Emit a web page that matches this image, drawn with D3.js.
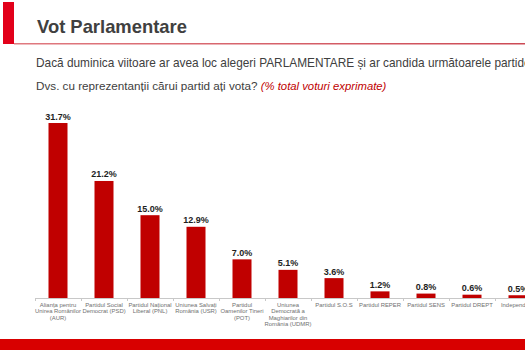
<!DOCTYPE html>
<html>
<head>
<meta charset="utf-8">
<script src="https://cdn.jsdelivr.net/npm/d3@7"></script>
<style>
  html, body { margin: 0; padding: 0; background: #fff; overflow: hidden; }
  svg { display: block; font-family: "Liberation Sans", Arial, sans-serif; }
</style>
</head>
<body>
<svg id="chart" width="525" height="350"></svg>
<script>
// ---- data ----
const titleText = "Vot Parlamentare";
const questionLine1 = "Dacă duminica viitoare ar avea loc alegeri PARLAMENTARE și ar candida următoarele partide";
const questionLine2 = "Dvs. cu reprezentanții cărui partid ați vota?";
const questionNote = "(% total voturi exprimate)";

const categories = [
  "Alianța pentru\nUnirea Românilor\n(AUR)",
  "Partidul Social\nDemocrat (PSD)",
  "Partidul Național\nLiberal (PNL)",
  "Uniunea Salvați\nRomânia (USR)",
  "Partidul\nOamenilor Tineri\n(POT)",
  "Uniunea\nDemocrată a\nMaghiarilor din\nRomânia (UDMR)",
  "Partidul S.O.S",
  "Partidul REPER",
  "Partidul SENS",
  "Partidul DREPT",
  "Independenți"
];
const values = [31.7, 21.2, 15.0, 12.9, 7.0, 5.1, 3.6, 1.2, 0.8, 0.6, 0.5];

// ---- drawing ----
const svg = d3.select("#chart");
const W = 525, H = 350;

// header
svg.append("rect").attr("x", 3).attr("y", 2).attr("width", 11).attr("height", 42).attr("fill", "#e2001a");
const grad = svg.append("defs").append("linearGradient").attr("id", "ul").attr("x1", "0").attr("x2", "1");
grad.append("stop").attr("offset", "0").attr("stop-color", "#e07a80");
grad.append("stop").attr("offset", "1").attr("stop-color", "#cc4a55");
svg.append("rect").attr("x", 14).attr("y", 43).attr("width", W - 14).attr("height", 1.5).attr("fill", "url(#ul)");

svg.append("text").attr("x", 37).attr("y", 33)
  .attr("font-size", 18.4).attr("font-weight", "bold").attr("fill", "#404040")
  .text(titleText);

svg.append("text").attr("x", 36).attr("y", 66.5)
  .attr("font-size", 11.85).attr("fill", "#404040").text(questionLine1);
const l2 = svg.append("text").attr("x", 36).attr("y", 89.5).attr("font-size", 11.7).attr("fill", "#404040");
l2.append("tspan").text(questionLine2 + " ");
l2.append("tspan").attr("font-style", "italic").attr("font-size", 11.3).attr("fill", "#c00000").text(questionNote);

// bottom band
svg.append("rect").attr("x", 0).attr("y", 339).attr("width", W).attr("height", H - 339).attr("fill", "#d80000");

// scales
const x0 = 35, step = 46;
const x = d3.scaleBand().domain(categories)
  .range([x0, x0 + step * categories.length])
  .paddingInner(0.587).paddingOuter(0.2935);
const baseY = 298;
const y = d3.scaleLinear().domain([0, 35]).range([baseY, baseY - 5.52 * 35]);

// axis
const axisG = svg.append("g").attr("transform", `translate(0,${baseY})`);
axisG.append("line").attr("x1", x0).attr("x2", W).attr("y1", 0.5).attr("y2", 0.5)
  .attr("stroke", "#c8c8c8").attr("stroke-width", 1);
const bounds = categories.map(c => x(c) + x.bandwidth() / 2 - x.step() / 2);
bounds.push(bounds[bounds.length - 1] + x.step());
axisG.selectAll("line.tick").data(bounds).join("line").attr("class", "tick")
  .attr("x1", d => Math.round(d) + 0.5).attr("x2", d => Math.round(d) + 0.5)
  .attr("y1", 0).attr("y2", 3).attr("stroke", "#c8c8c8");

// bars
svg.selectAll("rect.bar").data(values).join("rect").attr("class", "bar")
  .attr("x", (d, i) => x(categories[i]))
  .attr("width", x.bandwidth())
  .attr("y", d => y(d))
  .attr("height", d => baseY - y(d))
  .attr("fill", "#c00000");

// value labels
svg.selectAll("text.val").data(values).join("text").attr("class", "val")
  .attr("x", (d, i) => x(categories[i]) + x.bandwidth() / 2)
  .attr("y", d => y(d) - 3.5)
  .attr("text-anchor", "middle").attr("font-size", 9).attr("font-weight", "bold").attr("fill", "#1e1e1e")
  .text(d => d.toFixed(1) + "%");

// category labels
const catG = svg.selectAll("text.cat").data(categories).join("text").attr("class", "cat")
  .attr("text-anchor", "middle").attr("font-size", 5.9).attr("fill", "#707070");
catG.each(function(c) {
  const t = d3.select(this);
  const cx = x(c) + x.bandwidth() / 2;
  c.split("\n").forEach((ln, i) => {
    t.append("tspan").attr("x", cx).attr("y", 306.5 + i * 6.5).text(ln);
  });
});
</script>
</body>
</html>
